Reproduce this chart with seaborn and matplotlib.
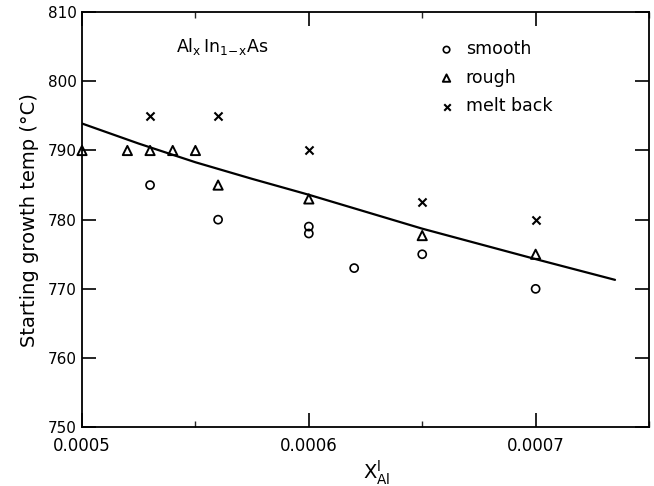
import numpy as np
import pandas as pd
import matplotlib
matplotlib.use("Agg")
import matplotlib.pyplot as plt
import seaborn as sns
from matplotlib.ticker import MultipleLocator

# datos
x_smooth = [0.00053, 0.00056, 0.0006, 0.0006, 0.00062, 0.00065, 0.0007]
t_smooth = [785, 780, 779, 778, 773, 775, 770]

x_rough = [0.0005, 0.00052, 0.00053, 0.00054, 0.00055, 0.00056, 0.0006, 0.00065, 0.0007]
t_rough = [790, 790, 790, 790, 790, 785, 783, 777.7, 775]

x_melt = [0.00053, 0.00056, 0.0006, 0.00065, 0.0007]
t_melt = [795, 795, 790, 782.5, 780]

# curva
x_curva = [0.0005, 0.000525, 0.00055, 0.000575, 0.0006, 0.00065, 0.0007, 0.000735]
t_curva = [793.9, 791.0, 788.3, 785.9, 783.6, 778.7, 774.3, 771.3]

sns.set_style("ticks")
plt.rcParams["font.family"] = ["DejaVu Sans"]
plt.rcParams["text.color"] = "black"

fig = plt.figure(figsize=(6.54, 4.86), dpi=100)
ax = fig.add_axes([0.1254, 0.121, 0.867, 0.854])

sns.lineplot(x=x_curva, y=t_curva, color="black", linewidth=1.6, ax=ax)

sns.scatterplot(x=x_smooth, y=t_smooth, marker="o", s=34, facecolor="none",
                edgecolor="black", linewidth=1.2, label="smooth", ax=ax, clip_on=False)
sns.scatterplot(x=x_rough, y=t_rough, marker="^", s=44, facecolor="none",
                edgecolor="black", linewidth=1.4, label="rough", ax=ax, clip_on=False)
sns.scatterplot(x=x_melt, y=t_melt, marker="x", s=34, color="black",
                linewidth=1.5, label="melt back", ax=ax)

ax.set_xlim(0.0005, 0.00075)
ax.set_ylim(750, 810)
ax.set_xticks([0.0005, 0.0006, 0.0007])
ax.set_xticklabels(["0.0005", "0.0006", "0.0007"])
ax.xaxis.set_minor_locator(MultipleLocator(0.00005))
ax.yaxis.set_major_locator(MultipleLocator(10))

ax.tick_params(axis="both", which="major", direction="in", length=10, width=1.2,
               top=True, right=True, color="black", labelcolor="black")
ax.tick_params(axis="x", which="major", labelsize=12, pad=7)
ax.tick_params(axis="y", which="major", labelsize=11, pad=4)
ax.tick_params(axis="x", which="minor", direction="in", length=4, width=1.0,
               top=True, bottom=True)
for s in ax.spines.values():
    s.set_linewidth(1.3)
    s.set_color("black")

ax.set_ylabel("Starting growth temp (\u00b0C)", fontsize=14, color="black", labelpad=6)
ax.set_xlabel(r"$\mathrm{X}_{\mathrm{Al}}^{\mathrm{l}}$", fontsize=14, color="black", labelpad=0)
ax.xaxis.set_label_coords(0.52, -0.075, transform=ax.transAxes)
ax.xaxis.label.set_va("top")

ax.text(0.000562, 805.0, r"$\mathrm{Al}_{\mathrm{x}}\,\mathrm{In}_{\mathrm{1\!-\!x}}\mathrm{As}$",
        fontsize=12.5, color="black", ha="center", va="center")

leg = ax.legend(loc="upper left", bbox_to_anchor=(0.6, 0.97), frameon=False,
                fontsize=12.5, handletextpad=0.6, labelspacing=0.6,
                markerscale=0.8, handlelength=1.0, labelcolor="black")

fig.savefig("out.png", dpi=100)
